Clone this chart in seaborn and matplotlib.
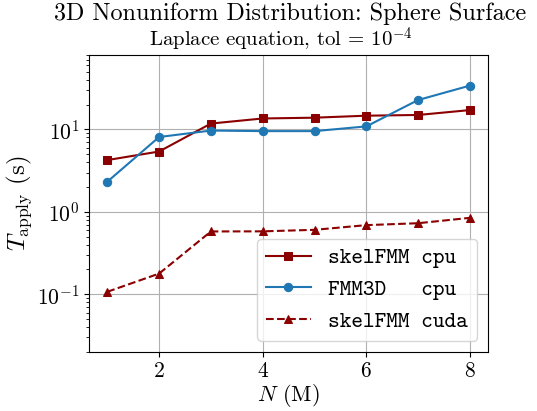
import numpy as np
import pandas as pd
import matplotlib
matplotlib.use("Agg")
import matplotlib.pyplot as plt
import seaborn as sns

N = [1, 2, 3, 4, 5, 6, 7, 8]
skel_cpu = [4.25, 5.4, 11.8, 13.6, 13.9, 14.7, 15.0, 17.2]
fmm3d_cpu = [2.32, 8.1, 9.7, 9.55, 9.55, 10.9, 22.8, 34.1]
skel_cuda = [0.107, 0.178, 0.578, 0.58, 0.605, 0.69, 0.728, 0.846]
labels = ["skelFMM cpu", "FMM3D   cpu", "skelFMM cuda"]

plt.rcParams["font.family"] = "serif"
plt.rcParams["font.serif"] = ["cmr10"]
plt.rcParams["mathtext.fontset"] = "cm"
plt.rcParams["axes.formatter.use_mathtext"] = True

fig = plt.figure(figsize=(5.37, 4.11), dpi=100)
ax = fig.add_axes([0.166, 0.144, 0.743, 0.722])

red = "#8b0000"
blue = "#1f77b4"
sns.lineplot(x=N, y=skel_cpu, ax=ax, color=red, marker="s", markersize=6,
             markeredgecolor=red, label=labels[0], linewidth=1.5)
sns.lineplot(x=N, y=fmm3d_cpu, ax=ax, color=blue, marker="o", markersize=6,
             markeredgecolor=blue, label=labels[1], linewidth=1.5)
sns.lineplot(x=N, y=skel_cuda, ax=ax, color=red, marker="^", markersize=6,
             markeredgecolor=red, label=labels[2], linewidth=1.5, linestyle="--")

ax.set_yscale("log")
ax.set_ylim(0.02, 80)
ax.set_xlim(0.65, 8.35)
ax.set_xticks([2, 4, 6, 8])
ax.grid(True, which="major", color="#b0b0b0", linewidth=0.8)
ax.set_axisbelow(True)
ax.tick_params(labelsize=15.5)
ax.set_xlabel(r"$N$ (M)", fontsize=16, labelpad=1)
ax.set_ylabel(r"$T_{\mathrm{apply}}$ (s)", fontsize=18, labelpad=2)
ax.set_title(r"Laplace equation, tol = $10^{-4}$", fontsize=15, x=0.48)
fig.suptitle("3D Nonuniform Distribution: Sphere Surface", fontsize=17.4,
             x=0.54, y=0.995)

leg = ax.legend(loc="lower right", prop={"family": "cmtt10", "size": 16})
for t, lab in zip(leg.get_texts(), labels):
    t.set_text(lab)

fig.savefig("out.png", dpi=100)
